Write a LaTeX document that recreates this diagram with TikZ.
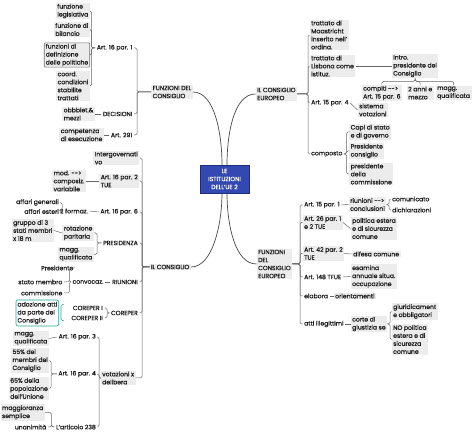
\documentclass[tikz,border=0pt]{standalone}
\usepackage{fontspec}
\setmainfont{Poppins}[BoldFont=Poppins,BoldFeatures={FakeBold=1}]
\definecolor{rootblue}{RGB}{52,72,178}
\definecolor{rootedge}{RGB}{30,44,125}
\definecolor{txtgray}{RGB}{30,30,30}
\definecolor{boxgray}{RGB}{236,236,236}
\definecolor{summteal}{RGB}{40,165,150}

\begin{document}
\begin{tikzpicture}[x=1pt,y=-1pt,
    every node/.style={font=\fontsize{6.1}{8}\selectfont\bfseries,text=txtgray,inner xsep=1.5pt,inner ysep=1pt,align=left},
    boxl/.style={fill=boxgray,anchor=east},
    boxr/.style={fill=boxgray,anchor=west},
    txtl/.style={anchor=east},
    txtr/.style={anchor=west},
    root/.style={fill=rootblue,draw=rootedge,text=white,align=center,minimum width=49pt,minimum height=28pt,inner sep=1pt},
    wire/.style={draw=black!60,line width=0.5pt,rounded corners=1.5pt},
    trunk/.style={draw=black!72,line width=0.7pt},
    summ/.style={draw=summteal,line width=0.6pt,rounded corners=1.5pt}]
    \useasboundingbox (0,0) rectangle (474,435);
    \node[root] (ue) at (224.5,179) {LE\\ISTITUZIONI\\DELL'UE 2};
    \node[boxl] (fdc) at (193,92) {FUNZIONI DEL\\CONSIGLIO};
    \node[boxr] (ice) at (255.5,94) {IL CONSIGLIO\\EUROPEO};
    \node[boxl] (ilc) at (191,267) {IL CONSIGLIO};
    \node[boxr] (fdce) at (256.5,264) {FUNZIONI\\DEL\\CONSIGLIO\\EUROPEO};
    \draw[trunk] (fdc.east) .. controls +(22,0) and +(0,-30) .. ([xshift=-2.5pt]ue.north);
    \draw[trunk] (ice.west) .. controls +(-22,0) and +(0,-30) .. ([xshift=2.5pt]ue.north);
    \draw[trunk] (ilc.east) .. controls +(22,0) and +(0,30) .. ([xshift=-2.5pt]ue.south);
    \draw[trunk] (fdce.west) .. controls +(-22,0) and +(0,30) .. ([xshift=2.5pt]ue.south);

    \node[txtl] (a161) at (134,48) {Art. 16 par. 1};
    \node[txtl] (dec) at (134,114) {DECISIONI};
    \node[txtl] (a291) at (134,135) {Art. 291};
    \node[boxl] (fleg) at (90,11) {funzione\\legislativa};
    \node[boxl] (fbil) at (90,29.5) {funzione di\\bilancio};
    \node[boxl,draw=black!55,line width=0.6pt,rounded corners=1pt] (fdef) at (90,55) {funzioni di\\definizione\\delle politiche};
    \node[boxl] (fcoo) at (90,86) {coord.\\condizioni\\stabilite\\trattati};
    \node[boxl] (obb) at (95,114) {obbbiet.\&\\mezzi};
    \node[boxl] (comp) at (104,135) {competenza\\di esecuzione};
    \foreach \k in {a161,dec,a291} \draw[wire] (\k.east) -- ++(3,0) |- (fdc.west);
    \foreach \k in {fleg,fbil,fdef,fcoo} \draw[wire] (\k.east) -- ++(1.5,0) |- (a161.west);
    \draw[wire] (dec.west) -- (obb.east);
    \draw[wire] (a291.west) -- (comp.east);

    \node[boxr] (mst) at (309.5,35) {trattato di\\Maastricht\\inserito nell'\\ordina.};
    \node[boxr] (lis) at (309.5,66) {trattato di\\Lisbona come\\istituz.};
    \node[txtr] (a154) at (309.5,103) {Art. 15 par. 4};
    \node[txtr] (compo) at (309.5,154) {composto};
    \node[boxr] (intro) at (391.5,66) {intro.\\presidente del\\Consiglio};
    \node[boxr] (cpt) at (361.5,93) {compiti {-}{-}>\\Art. 15 par. 6};
    \node[boxr] (anni) at (406.5,93) {2 anni e\\mezzo};
    \node[boxr] (magq) at (435.5,93) {magg.\\qualificata};
    \node[boxr] (sist) at (357.5,110) {sistema\\votazioni};
    \node[boxr] (capi) at (349,132) {Capi di stato\\e di governo};
    \node[boxr] (pcons) at (349,151) {Presidente\\consiglio};
    \node[boxr] (pcom) at (349,174) {presidente\\della\\commissione};
    \foreach \k in {mst,lis,a154,compo} \draw[wire] (\k.west) -- ++(-1.5,0) |- (ice.east);
    \draw[wire] (lis.east) -- (intro.west);
    \foreach \k in {cpt,anni,magq} \draw[wire] (intro.south) -- ++(0,3) -| (\k.north);
    \draw[wire] (a154.east) -- (sist.west);
    \foreach \k in {capi,pcons,pcom} \draw[wire] (\k.west) -- ++(-2.5,0) |- (compo.east);

    \node[txtr] (a151) at (302.5,205) {Art. 15 par. 1};
    \node[boxr] (a26) at (302.5,222.5) {Art. 26 par. 1\\e 2 TUE};
    \node[boxr] (a42) at (302.5,253.5) {Art. 42 par. 2\\TUE};
    \node[txtr] (a148) at (302.5,277) {Art. 148 TFUE};
    \node[txtr] (elab) at (302.5,296) {elabora};
    \node[txtr] (atti) at (302.5,324) {atti illegittimi};
    \node[boxr] (riun2) at (348.5,204.5) {riunioni {-}{-}>\\conclusioni};
    \node[txtr] (comu) at (390.5,199) {comunicato};
    \node[txtr] (dich) at (390.5,210) {dichiarazioni};
    \node[boxr] (pol) at (350.5,228.5) {politica estera\\e di sicurezza\\comune};
    \node[boxr] (dif) at (351.5,254) {difesa comune};
    \node[boxr] (esa) at (350.5,276.5) {esamina\\annuale situa.\\occupazione};
    \node[boxr] (ori) at (333.5,296) {orientamenti};
    \node[boxr] (corte) at (350.5,324) {corte di\\giustizia se};
    \node[boxr] (giur) at (391.5,311.5) {giuridicament\\e obbligatori};
    \node[boxr] (nopol) at (391.5,339.5) {NO politica\\estera e di\\sicurezza\\comune};
    \foreach \k in {a151,a26,a42,a148,elab,atti} \draw[wire] (\k.west) -- ++(-2.5,0) |- (fdce.east);
    \draw[wire] (a151.east) -- (riun2.west);
    \draw[wire] (a26.east) -- (pol.west);
    \draw[wire] (a42.east) -- (dif.west);
    \draw[wire] (a148.east) -- (esa.west);
    \draw[wire] (elab.east) -- (ori.west);
    \draw[wire] (atti.east) -- (corte.west);
    \foreach \k in {comu,dich} \draw[wire] (\k.west) -- ++(-1.5,0) |- (riun2.east);
    \foreach \k in {giur,nopol} \draw[wire] (\k.west) -- ++(-1.5,0) |- (corte.east);

    \node[boxl] (intg) at (139.5,158) {Intergovernati\\vo};
    \node[boxl] (a162) at (139.5,181) {Art. 16 par. 2\\TUE};
    \node[txtl] (a166) at (139.5,212) {Art. 16 par. 6};
    \node[txtl] (pres) at (139.5,243) {PRESIDENZA};
    \node[txtl] (riun) at (139.5,282) {RIUNIONI};
    \node[txtl] (cor) at (139.5,313) {COREPER};
    \node[boxr] (vot) at (100.5,378) {votazioni x\\delibera};
    \foreach \k in {intg,a162,a166,pres,riun,cor} \draw[wire] (\k.east) -- ++(2.5,0) |- (ilc.west);
    \draw[wire] (vot.east) -- (vot.east -| cor.east) -- ++(2.5,0) |- (ilc.west);
    \node[boxl] (modc) at (86,181) {mod. {-}{-}>\\composiz.\\variabile};
    \node[txtl] (form) at (89.5,211) {2 formaz.};
    \node[txtl] (affg) at (60.5,202.5) {affari generali};
    \node[txtl] (affe) at (60.5,211.5) {affari esteri};
    \node[boxl] (rot) at (94,233) {rotazione\\paritaria};
    \node[boxl] (mag1) at (94,254.5) {magg.\\qualificata};
    \node[boxl] (grp) at (54,230.5) {gruppo di 3\\stati membri\\x 18 m};
    \node[txtl] (conv) at (105,282) {convocaz.};
    \node[txtl] (presid) at (75,268) {Presidente};
    \node[txtl] (stato) at (64,282) {stato membro};
    \node[txtl] (commi) at (64,293) {commissione};
    \node[txtl] (cor1) at (104.5,308) {COREPER I};
    \node[txtl] (cor2) at (104.5,318) {COREPER II};
    \node[txtl,draw=summteal,line width=0.6pt,rounded corners=2pt,minimum height=26pt,fill=white] (adoz) at (59,313) {adozione atti\\da parte del\\Consiglio};
    \draw[wire] (a162.west) -- (modc.east);
    \draw[wire] (a166.west) -- (form.east);
    \foreach \k in {affg,affe} \draw[wire] (\k.east) -- ++(1.5,0) |- (form.west);
    \foreach \k in {rot,mag1} \draw[wire] (\k.east) -- ++(3,0) |- (pres.west);
    \draw[wire] (rot.west) -- (grp.east);
    \draw[wire] (riun.west) -- (conv.east);
    \foreach \k in {presid,stato,commi} \draw[wire] (conv.west) -- ++(-1.5,0) |- (\k.east);
    \foreach \k in {cor1,cor2} \draw[wire] (\k.east) -- ++(2.5,0) |- (cor.west);
    \draw[summ] ([shift={(5,5)}]adoz.north east) -- ++(-3,0) -- ++(0,16) -- ++(3,0);

    \node[txtl] (a163) at (97.5,337) {Art. 16 par. 3};
    \node[txtl] (a164) at (97.5,374) {Art. 16 par. 4};
    \node[txtl] (l238) at (97.5,427) {L'articolo 238};
    \node[boxl] (magq2) at (49,338.5) {magg.\\qualificata};
    \node[boxl] (pct55) at (49.5,360.5) {55\% dei\\membri del\\Consiglio};
    \node[boxl] (pct65) at (49.5,388.5) {65\% della\\popolazione\\dell'Unione};
    \node[boxl] (magsem) at (45,412.5) {maggioranza\\semplice};
    \node[txtl] (unan) at (48,427) {unanimità};
    \foreach \k in {a163,a164,l238} \draw[wire] (\k.east) -- ++(1.5,0) |- (vot.west);
    \draw[wire] (a163.west) -- (magq2.east);
    \foreach \k in {pct55,pct65} \draw[wire] (\k.east) -- ++(1.5,0) |- (a164.west);
    \foreach \k in {magsem,unan} \draw[wire] (l238.west) -- ++(-3,0) |- (\k.east);
\end{tikzpicture}
\end{document}
